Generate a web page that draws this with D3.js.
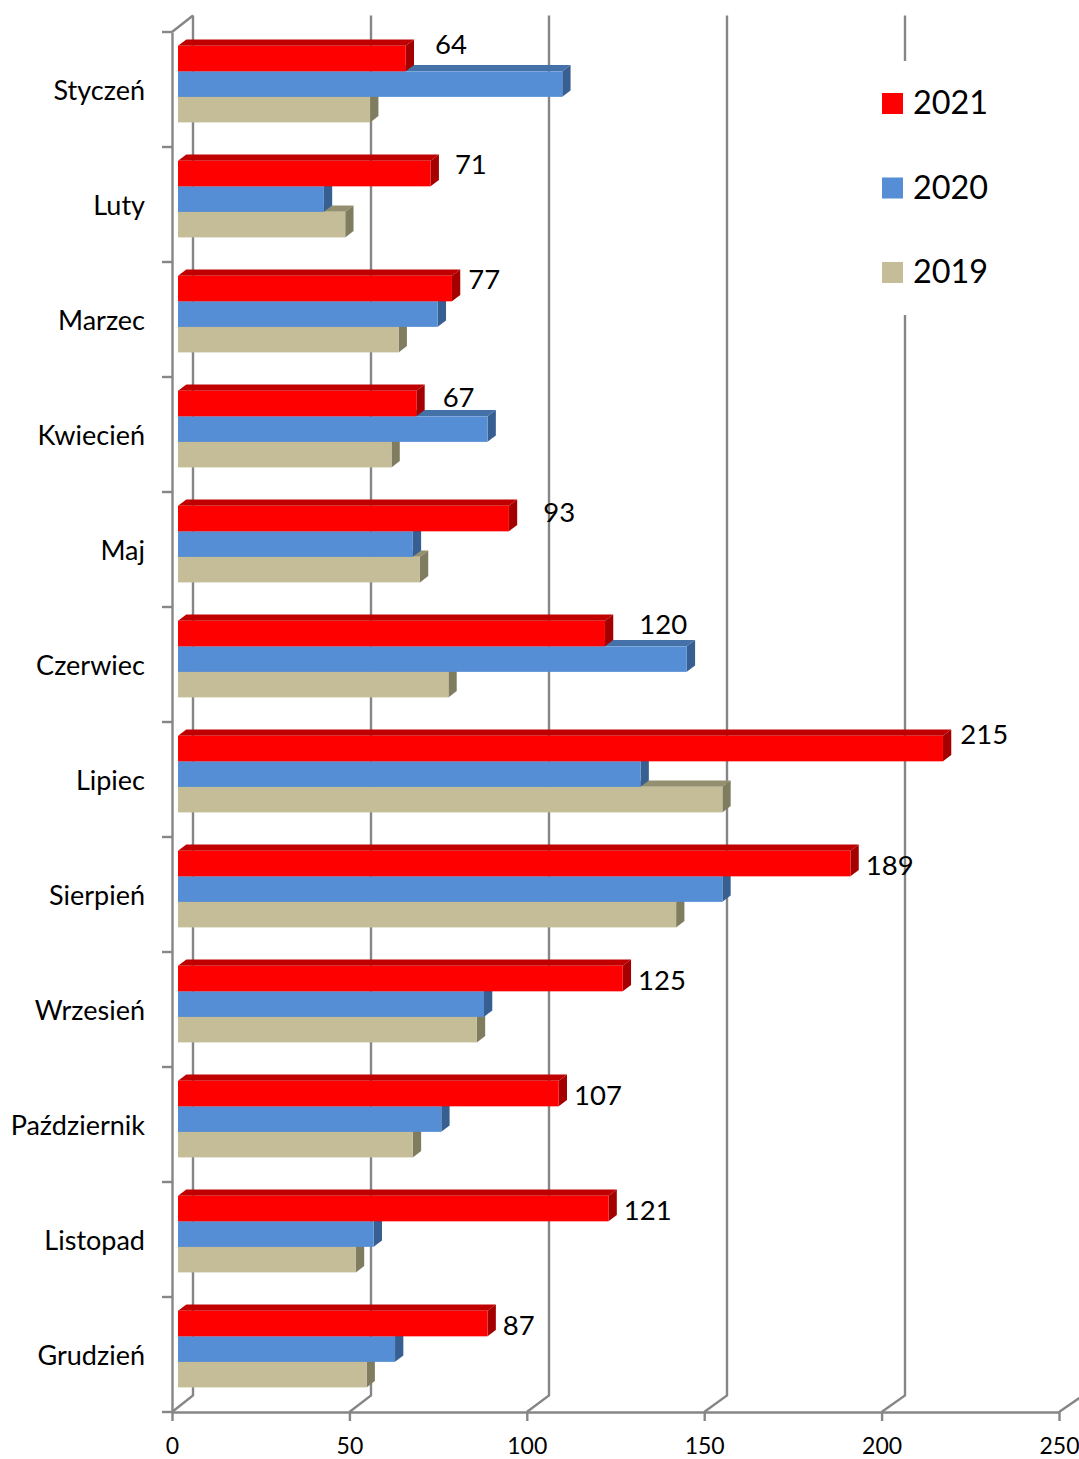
<!DOCTYPE html>
<html>
<head>
<meta charset="utf-8">
<script src="https://cdn.jsdelivr.net/npm/d3@7"></script>
<style>
  html, body { margin: 0; padding: 0; background: #fff; }
  text { font-family: Lato, "Open Sans", sans-serif; fill: #000; }
</style>
</head>
<body>
<svg id="chart"></svg>
<script>
var months = ["Styczeń", "Luty", "Marzec", "Kwiecień", "Maj", "Czerwiec", "Lipiec", "Sierpień", "Wrzesień", "Październik", "Listopad", "Grudzień"];
var years = ["2021", "2020", "2019"];
var values2021 = [64, 71, 77, 67, 93, 120, 215, 189, 125, 107, 121, 87];
var values2020 = [108, 41, 73, 87, 66, 143, 130, 153, 86, 74, 55, 61];
var values2019 = [54, 47, 62, 60, 68, 76, 153, 140, 84, 66, 50, 53];
var xTicks = [0, 50, 100, 150, 200, 250];

// hand placed data labels, px from the bar tip
var labelDx = [21, 16, 8, 18, 26, 26, 9, 7, 7, 7, 7, 7];
var labelDy = [-14, -9, -9, -6, -6, -9, -14, 2, 2, 2, 2, 2];

var width = 1079;
var height = 1459;

// depth of the chart walls and of the bars
var wallDy = -16.5;
var barDx = 8.3, barDy = -6.3;

var colors = {
  "2021": { front: "#ff0000", top: "#c00000", side: "#a40000" },
  "2020": { front: "#558ed5", top: "#4472a8", side: "#375f92" },
  "2019": { front: "#c4bd97", top: "#94906f", side: "#7f7c60" }
};
var seriesValues = { "2021": values2021, "2020": values2020, "2019": values2019 };

var svg = d3.select("#chart")
  .attr("width", width)
  .attr("height", height)
  .style("display", "block");

// front edge of the floor, the back wall and the bar fronts each have their own scale (perspective)
var x = d3.scaleLinear().domain([0, 250]).range([172, 1059]);
var xWall = d3.scaleLinear().domain([0, 250]).range([193, 1083]);
var xBar = d3.scaleLinear().domain([0, 250]).range([178, 1067.5]);
var y = d3.scaleBand().domain(months).range([32, 1412]);
var yInner = d3.scaleBand().domain(years).range([13.8, 90.4]);

var axisColor = "#868686";

// back wall lines with their floor diagonals
var grid = svg.append("g")
  .attr("fill", "none")
  .attr("stroke", axisColor)
  .attr("stroke-width", 2.4);

grid.selectAll("path")
  .data(xTicks)
  .enter()
  .append("path")
  .attr("d", function(d) {
    var p = d3.path();
    p.moveTo(x(d), 1412);
    p.lineTo(xWall(d), 1412 + wallDy);
    p.lineTo(xWall(d), 32 + wallDy);
    return p.toString();
  });

// top left corner of the wall
grid.append("line")
  .attr("x1", x(0)).attr("y1", 32)
  .attr("x2", xWall(0)).attr("y2", 32 + wallDy);

// axes
var xAxis = svg.append("g")
  .attr("transform", "translate(0,1412)")
  .call(d3.axisBottom(x).tickValues(xTicks).tickSize(9).tickPadding(17).tickSizeOuter(0));
xAxis.selectAll("text").style("font-size", "23px").attr("dy", "0.71em");

var yAxis = svg.append("g")
  .attr("transform", "translate(172,0)")
  .call(d3.axisLeft(y).tickSize(0).tickPadding(27));
yAxis.selectAll("text").style("font-size", "27px").attr("dy", "0.38em");

[xAxis, yAxis].forEach(function(a) {
  a.selectAll("path.domain").attr("stroke", axisColor).attr("stroke-width", 2.4);
  a.selectAll("line").attr("stroke", axisColor).attr("stroke-width", 2.4);
});

// category ticks sit on the band edges, not the centres
svg.append("g")
  .selectAll("line")
  .data(months.concat(["end"]))
  .enter()
  .append("line")
  .attr("x1", 162)
  .attr("x2", 172)
  .attr("y1", function(d, i) { return 32 + i * y.step(); })
  .attr("y2", function(d, i) { return 32 + i * y.step(); })
  .attr("stroke", axisColor)
  .attr("stroke-width", 2.4);

function poly(points) {
  var p = d3.path();
  points.forEach(function(pt, i) {
    if (i === 0) p.moveTo(pt[0], pt[1]); else p.lineTo(pt[0], pt[1]);
  });
  p.closePath();
  return p.toString();
}

// bars: 2019 first so 2021 ends up on top
months.forEach(function(month, m) {
  var group = svg.append("g").attr("transform", "translate(0," + y(month) + ")");
  years.slice().reverse().forEach(function(year) {
    var c = colors[year];
    var x0 = xBar(0);
    var x1 = xBar(seriesValues[year][m]);
    var y0 = yInner(year);
    var y1 = y0 + yInner.bandwidth();

    group.append("path")
      .attr("d", poly([[x0, y0], [x0 + barDx, y0 + barDy], [x1 + barDx, y0 + barDy], [x1, y0]]))
      .attr("fill", c.top);
    group.append("path")
      .attr("d", poly([[x1, y0], [x1 + barDx, y0 + barDy], [x1 + barDx, y1 + barDy], [x1, y1]]))
      .attr("fill", c.side);
    group.append("rect")
      .attr("x", x0)
      .attr("y", y0)
      .attr("width", x1 - x0)
      .attr("height", y1 - y0)
      .attr("fill", c.front);
  });
});

// data labels for 2021
svg.append("g")
  .selectAll("text")
  .data(values2021)
  .enter()
  .append("text")
  .attr("x", function(d, i) { return xBar(d) + barDx + labelDx[i]; })
  .attr("y", function(d, i) { return y(months[i]) + yInner("2021") + yInner.bandwidth() / 2 + labelDy[i]; })
  .attr("dy", "0.36em")
  .style("font-size", "27.5px")
  .text(function(d) { return d; });

// legend sits on a white box that hides the wall line
var legend = svg.append("g");
legend.append("rect")
  .attr("x", 875).attr("y", 61)
  .attr("width", 125).attr("height", 254)
  .attr("fill", "#fff");

var legendY = d3.scalePoint().domain(years).range([103.5, 272.5]);

legend.selectAll("rect.key")
  .data(years)
  .enter()
  .append("rect")
  .attr("class", "key")
  .attr("x", 882)
  .attr("y", function(d) { return legendY(d) - 10.5; })
  .attr("width", 21)
  .attr("height", 21)
  .attr("fill", function(d) { return colors[d].front; });

legend.selectAll("text")
  .data(years)
  .enter()
  .append("text")
  .attr("x", 913)
  .attr("y", function(d) { return legendY(d) - 1; })
  .attr("dy", "0.36em")
  .style("font-size", "32.4px")
  .text(function(d) { return d; });
</script>
</body>
</html>
